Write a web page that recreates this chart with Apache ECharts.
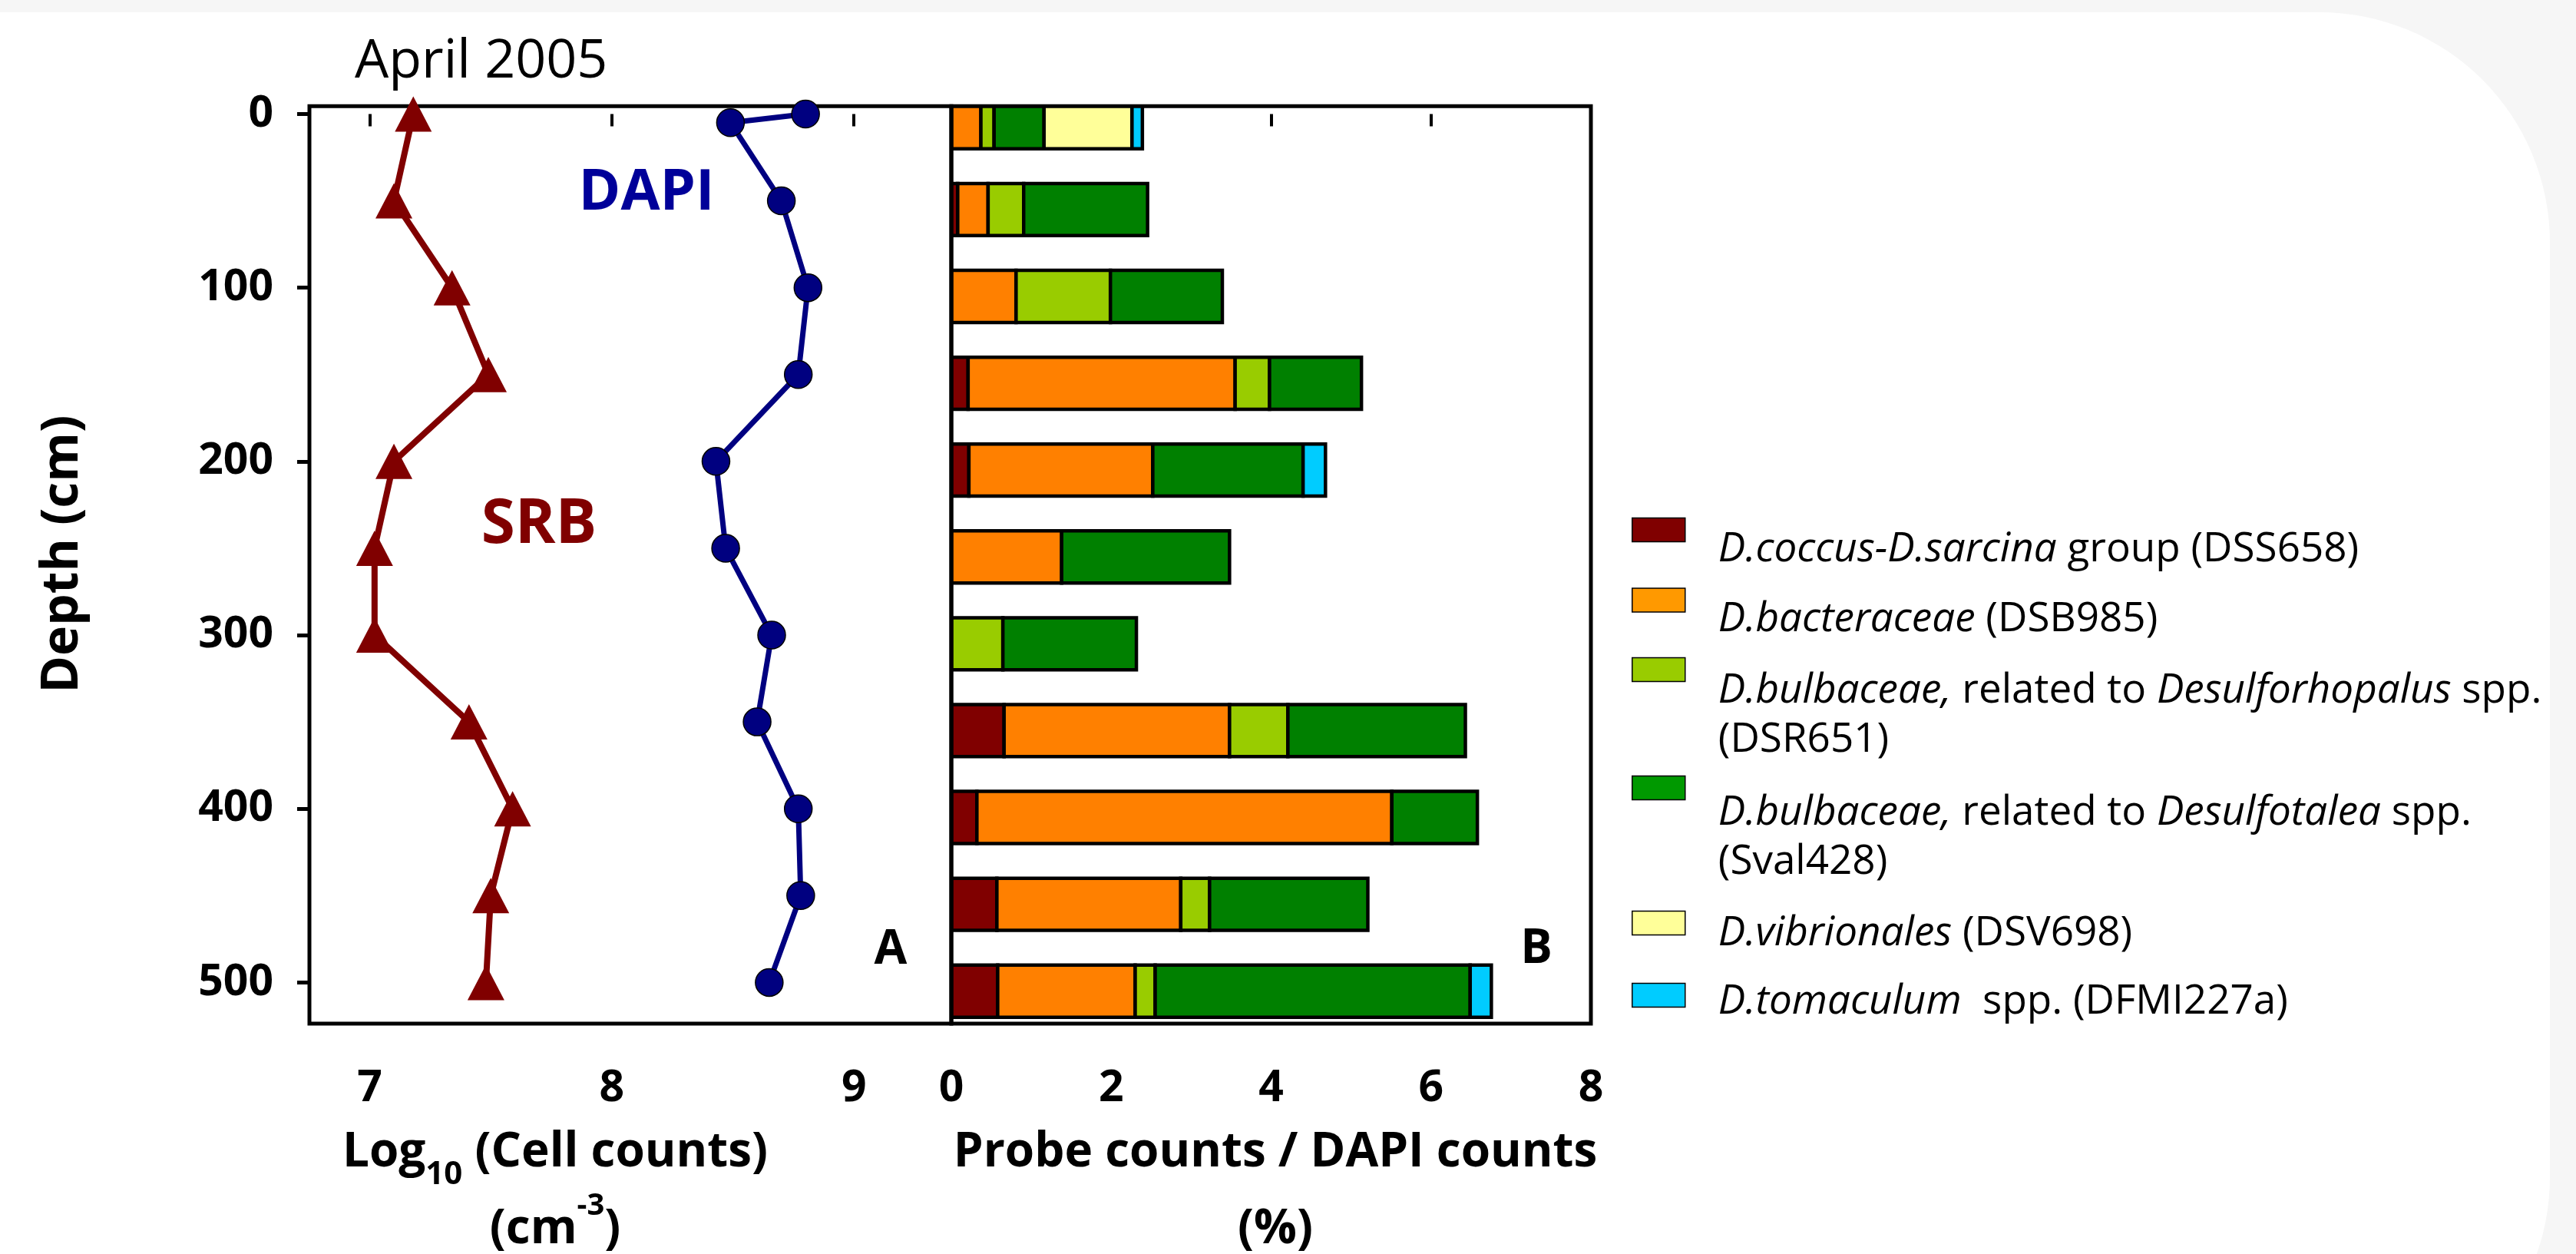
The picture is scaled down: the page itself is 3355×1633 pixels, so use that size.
<!DOCTYPE html>
<html><head><meta charset="utf-8">
<script src="https://cdn.jsdelivr.net/npm/echarts@6/dist/echarts.min.js"></script>
<style>html,body{margin:0;padding:0;background:#f6f6f6}#chart{width:3355px;height:1633px}</style>
</head><body><div id="chart"></div>
<script>
// ---- data ----
const srbDepths = [0, 50, 100, 150, 200, 250, 300, 350, 400, 450, 500];
const srbLog = [7.18, 7.10, 7.34, 7.49, 7.10, 7.02, 7.02, 7.41, 7.59, 7.50, 7.48];
const dapiDepths = [0, 5, 50, 100, 150, 200, 250, 300, 350, 400, 450, 500];
const dapiLog = [8.80, 8.49, 8.70, 8.81, 8.77, 8.43, 8.47, 8.66, 8.60, 8.77, 8.78, 8.65];
const barDepths = [0, 50, 100, 150, 200, 250, 300, 350, 400, 450, 500];
const dss658  = [0,    0.08, 0,    0.21, 0.22, 0,    0,     0.66, 0.32, 0.57, 0.58];
const dsb985  = [0.37, 0.38, 0.81, 3.34, 2.30, 1.38, 0,     2.82, 5.19, 2.30, 1.72];
const dsr651  = [0.165,0.445,1.18, 0.43, 0,    0,    0.645, 0.73, 0,    0.36, 0.25];
const sval428 = [0.625,1.55, 1.40, 1.15, 1.88, 2.10, 1.67,  2.22, 1.07, 1.98, 3.94];
const dsv698  = [1.10, 0,    0,    0,    0,    0,    0,     0,    0,    0,    0];
const dfmi227a= [0.13, 0,    0,    0,    0.28, 0,    0,     0,    0,    0,    0.265];
const depthTicks = [0, 100, 200, 300, 400, 500];
const logTicks = [7, 8, 9];
const probeNames = ['DSS658', 'DSB985', 'DSR651', 'Sval428', 'DSV698', 'DFMI227a'];
const legendLabels = [
  '{i|D.coccus-D.sarcina} group (DSS658)',
  '{i|D.bacteraceae} (DSB985)',
  '{i|D.bulbaceae,} related to {i|Desulforhopalus} spp.\n(DSR651)',
  '{i|D.bulbaceae,} related to {i|Desulfotalea} spp.\n(Sval428)',
  '{i|D.vibrionales} (DSV698)',
  '{i|D.tomaculum}  spp. (DFMI227a)'
];
const probeSeries = [dss658, dsb985, dsr651, sval428, dsv698, dfmi227a];

// ---- styles / layout ----
const barColors = ['#800000', '#FF8000', '#99CC00', '#008000', '#FFFF99', '#00CCFF'];
const legendColors = ['#800000', '#FF9900', '#99CC00', '#009900', '#FFFF99', '#00CCFF'];
const FONT = '"Open Sans", "DejaVu Sans", sans-serif';
const BAR_SHIFT = 5;   // cm offset of bars below the depth
const BAR_THICK = 30;  // bar thickness in depth units
const legendIconCenters = [690, 781.5, 872, 1026, 1202, 1296];
const legendTextDrop = [26, 25, 28, 33, 14, 9];
const LEG_LH = 64;

// cumulative starts for stacking
const starts = probeSeries.map((arr, k) => barDepths.map((d, i) => {
  let s = 0; for (let j = 0; j < k; j++) s += probeSeries[j][i]; return s;
}));

const chart = echarts.init(document.getElementById('chart'), null, {renderer: 'canvas'});

const barSeries = probeNames.map((name, k) => ({
  type: 'custom', name, xAxisIndex: 1, yAxisIndex: 1, z: 2, clip: true,
  itemStyle: {color: barColors[k]},
  encode: {x: [0, 1], y: 2},
  data: barDepths.map((d, i) => [starts[k][i], starts[k][i] + probeSeries[k][i], d]),
  renderItem: function (params, api) {
    const x0 = api.value(0), x1 = api.value(1), d = api.value(2);
    if (!(x1 > x0)) return null;
    const a = api.coord([x0, d + BAR_SHIFT]);
    const b = api.coord([x1, d + BAR_SHIFT]);
    const h = api.size([0, BAR_THICK])[1];
    return {type: 'rect', shape: {x: a[0], y: a[1] - h / 2, width: b[0] - a[0], height: h},
      style: {fill: api.visual('color'), stroke: '#000', lineWidth: 4.5}};
  }
}));

const legends = probeNames.map((name, k) => {
  const nLines = legendLabels[k].split('\n').length;
  const pad = 2 * legendTextDrop[k] + (nLines - 1) * LEG_LH;
  const blockH = Math.max(31, nLines * LEG_LH + pad);
  return {
    data: [{name, itemStyle: {color: legendColors[k]}}],
    left: 2125, top: legendIconCenters[k] - blockH / 2, orient: 'vertical', padding: 0,
    itemWidth: 69, itemHeight: 31, icon: 'rect', selectedMode: false,
    itemStyle: {borderColor: '#000', borderWidth: 1.5},
    formatter: () => legendLabels[k],
    textStyle: {fontFamily: FONT, fontSize: 53, color: '#000', lineHeight: LEG_LH, padding: [pad, 0, 0, 38],
      rich: {i: {fontFamily: FONT, fontSize: 53, fontStyle: 'italic', color: '#000', lineHeight: LEG_LH}}}
  };
});

const nameRich = {
  b: {fontFamily: FONT, fontWeight: 'bold', fontSize: 62, lineHeight: 100, color: '#000'},
  s: {fontFamily: FONT, fontWeight: 'bold', fontSize: 42, lineHeight: 50, verticalAlign: 'bottom', color: '#000'},
  p: {fontFamily: FONT, fontWeight: 'bold', fontSize: 40, lineHeight: 44, verticalAlign: 'top', color: '#000'}
};
const tickLabel = {fontFamily: FONT, fontWeight: 'bold', fontSize: 57, color: '#000'};

const option = {
  animation: false,
  backgroundColor: '#f6f6f6',
  title: {text: 'April 2005', left: 462, top: 46, padding: 0,
    textStyle: {fontFamily: FONT, fontWeight: 'normal', fontSize: 70, color: '#000'}},
  graphic: [
    {type: 'rect', z: -10, silent: true, shape: {x: -400, y: 16, width: 3721, height: 1817, r: [0, 300, 300, 0]}, style: {fill: '#ffffff'}},
    {type: 'text', z: 20, x: 842, y: 252, style: {text: 'DAPI', font: 'bold 74px ' + FONT, fill: '#000099', align: 'center', verticalAlign: 'middle'}},
    {type: 'text', z: 20, x: 702, y: 684, style: {text: 'SRB', font: 'bold 80px ' + FONT, fill: '#800000', align: 'center', verticalAlign: 'middle'}},
    {type: 'text', z: 20, x: 1160, y: 1237, style: {text: 'A', font: 'bold 62px ' + FONT, fill: '#000', align: 'center', verticalAlign: 'middle'}},
    {type: 'text', z: 20, x: 2001, y: 1236, style: {text: 'B', font: 'bold 62px ' + FONT, fill: '#000', align: 'center', verticalAlign: 'middle'}}
  ],
  legend: legends,
  grid: [
    {left: 403, top: 138.3, width: 836, height: 1194.7, show: true, borderColor: '#000', borderWidth: 5, backgroundColor: 'transparent', z: 5, containLabel: false, outerBoundsMode: 'none'},
    {left: 1239, top: 138.3, width: 833, height: 1194.7, show: true, borderColor: '#000', borderWidth: 5, backgroundColor: 'transparent', z: 5, containLabel: false, outerBoundsMode: 'none'}
  ],
  xAxis: [
    {gridIndex: 0, type: 'value', min: 6.751, max: 9.402, position: 'bottom',
      axisLine: {show: false}, splitLine: {show: false},
      axisTick: {show: true, customValues: logTicks, length: 16, lineStyle: {color: '#000', width: 4}},
      axisLabel: {customValues: logTicks, margin: 56, ...tickLabel},
      name: '{b|Log}{s|10}{b| (Cell counts)}\n{b|(cm}{p|-3}{b|)}', nameLocation: 'middle', nameGap: 95,
      nameTextStyle: {fontFamily: FONT, fontWeight: 'bold', fontSize: 62, lineHeight: 100, color: '#000', padding: [0, 196, 0, 0], rich: nameRich}},
    {gridIndex: 1, type: 'value', min: 0, max: 8, interval: 2, position: 'bottom',
      axisLine: {show: false}, splitLine: {show: false},
      axisTick: {show: true, length: 16, lineStyle: {color: '#000', width: 4}},
      axisLabel: {margin: 56, ...tickLabel},
      name: '{b|Probe counts / DAPI counts}\n{b|(%)}', nameLocation: 'middle', nameGap: 95,
      nameTextStyle: {fontFamily: FONT, fontWeight: 'bold', fontSize: 62, lineHeight: 100, color: '#000', padding: [0, 0, 0, 11], rich: nameRich}}
  ],
  yAxis: [
    {gridIndex: 0, type: 'value', inverse: true, min: -4.5, max: 523.7,
      axisLine: {show: false}, splitLine: {show: false},
      axisTick: {show: true, customValues: depthTicks, length: 16, lineStyle: {color: '#000', width: 5}},
      axisLabel: {customValues: depthTicks, margin: 47, ...tickLabel},
      name: 'Depth (cm)', nameLocation: 'middle', nameGap: 288,
      nameTextStyle: {fontFamily: FONT, fontWeight: 'bold', fontSize: 66, color: '#000', padding: [0, 0, 0, 28]}},
    {gridIndex: 1, type: 'value', inverse: true, min: -4.5, max: 523.7, show: false}
  ],
  series: [
    {type: 'line', name: 'SRB', xAxisIndex: 0, yAxisIndex: 0, z: 10, clip: false,
      data: srbDepths.map((d, i) => [srbLog[i], d]),
      symbol: 'triangle', symbolSize: [48, 46],
      itemStyle: {color: '#800000'}, lineStyle: {color: '#800000', width: 8}},
    {type: 'line', name: 'DAPI', xAxisIndex: 0, yAxisIndex: 0, z: 10, clip: false,
      data: dapiDepths.map((d, i) => [dapiLog[i], d]),
      symbol: 'circle', symbolSize: 36,
      itemStyle: {color: '#000080', borderColor: '#000', borderWidth: 1.5}, lineStyle: {color: '#000080', width: 7}},
    ...barSeries
  ]
};
chart.setOption(option);
</script>
</body></html>
